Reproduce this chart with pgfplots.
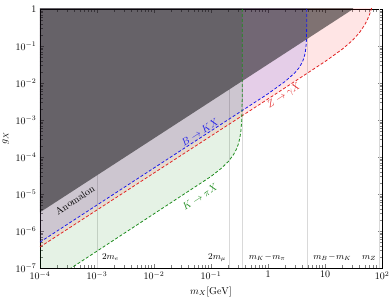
\documentclass[border=0pt]{standalone}
\usepackage{pgfplots}
\pgfplotsset{compat=1.18}
\definecolor{cred}{RGB}{225,35,35}
\definecolor{cblue}{RGB}{25,25,235}
\definecolor{cgreen}{RGB}{30,140,30}
\begin{document}
\begin{tikzpicture}
\begin{axis}[
  scale only axis,
  width=342pt, height=259pt,
  xmode=log, ymode=log,
  xmin=1e-4, xmax=100, ymin=1e-7, ymax=1,
  xtick={1e-4,1e-3,1e-2,1e-1,1,10,100},
  xticklabels={$10^{-4}$,$10^{-3}$,$10^{-2}$,$10^{-1}$,$1$,$10$,$10^{2}$},
  ytick={1e-7,1e-6,1e-5,1e-4,1e-3,1e-2,1e-1,1},
  yticklabels={$10^{-7}$,$10^{-6}$,$10^{-5}$,$10^{-4}$,$10^{-3}$,$10^{-2}$,$10^{-1}$,$1$},
  tick align=inside,
  axis line style={line width=0.8pt},
  xlabel={$m_X[\mathrm{GeV}]$},
  ylabel={$g_X$},
  clip=true,
]
% reference vertical lines (up to the Anomalon boundary)
\addplot[gray!30, line width=0.5pt] coordinates {(1.022e-3,1e-7) (1.022e-3,3.27e-5)};
\addplot[gray!30, line width=0.5pt] coordinates {(0.2113,1e-7) (0.2113,6.76e-3)};
\addplot[gray!30, line width=0.5pt] coordinates {(0.354,1e-7) (0.354,1.13e-2)};
\addplot[gray!30, line width=0.5pt] coordinates {(4.785,1e-7) (4.785,0.153)};
\addplot[gray!30, line width=0.5pt] coordinates {(91.19,1e-7) (91.19,1)};

% Z -> gamma X fill
\addplot[draw=none, fill=red, fill opacity=0.1] coordinates {
 (1e-4,3.7e-7) (1,3.7e-3) (10,0.03791) (20,0.08167) (30,0.1396) (40,0.2269)
 (50,0.3782) (55,0.5027) (60,0.6903) (65,0.9938) (66,1.077) (66,10) (1e-4,10)} -- cycle;
% B -> K X fill
\addplot[draw=none, fill=blue, fill opacity=0.1] coordinates {
 (1e-4,5e-7) (1,5.113e-3) (2,0.01101) (3,0.01926) (3.5,0.02566) (4,0.03644)
 (4.3,0.04901) (4.5,0.06618) (4.65,0.0986) (4.72,0.1437) (4.76,0.2333) (4.78,0.523)
 (4.785,1.5) (4.785,10) (1e-4,10)} -- cycle;
% K -> pi X fill
\addplot[draw=none, fill=green!50!black, fill opacity=0.1] coordinates {
 (1e-4,2.8e-8) (0.1,2.98e-5) (0.15,4.87e-5) (0.2,7.47e-5) (0.25,1.175e-4)
 (0.28,1.638e-4) (0.3,2.172e-4) (0.32,3.206e-4) (0.335,5.10e-4) (0.345,9.1e-4)
 (0.35,1.687e-3) (0.353,4.8e-3) (0.354,1.5) (0.354,10) (1e-4,10)} -- cycle;
% Anomalon
\addplot[draw=none, fill=black, fill opacity=0.5] coordinates {
 (1e-4,3.2e-6) (31.25,1) (31.25,10) (1e-4,10)} -- cycle;

% dashed curves
\addplot[cred, line width=0.8pt, dash pattern=on 3pt off 2pt] coordinates {
 (1e-4,3.7e-7) (1,3.7e-3) (10,0.03791) (20,0.08167) (30,0.1396) (40,0.2269)
 (50,0.3782) (55,0.5027) (60,0.6903) (65,0.9938) (66,1.077)};
\addplot[cblue, line width=0.8pt, dash pattern=on 3pt off 2pt] coordinates {
 (1e-4,5e-7) (1,5.113e-3) (2,0.01101) (3,0.01926) (3.5,0.02566) (4,0.03644)
 (4.3,0.04901) (4.5,0.06618) (4.65,0.0986) (4.72,0.1437) (4.76,0.2333) (4.78,0.523)
 (4.785,1.5)};
\addplot[cgreen, line width=0.8pt, dash pattern=on 3pt off 2pt] coordinates {
 (1e-4,2.8e-8) (0.1,2.98e-5) (0.15,4.87e-5) (0.2,7.47e-5) (0.25,1.175e-4)
 (0.28,1.638e-4) (0.3,2.172e-4) (0.32,3.206e-4) (0.335,5.10e-4) (0.345,9.1e-4)
 (0.35,1.687e-3) (0.353,4.8e-3) (0.354,1.5)};

% labels
\node[rotate=33] at (axis cs:4.1e-4,6.9e-6) {Anomalon};
\node[rotate=33, text=cblue] at (axis cs:0.064,4.8e-4) {$B\to KX$};
\node[rotate=33, text=cred] at (axis cs:1.91,4.5e-3) {$Z\to\gamma X$};
\node[rotate=33, text=cgreen] at (axis cs:0.064,8.3e-6) {$K\to\pi X$};

\node[font=\small, anchor=base west, xshift=1pt] at (axis cs:1.022e-3,1.7e-7) {$2m_e$};
\node[font=\small, anchor=base east, xshift=0pt] at (axis cs:0.2113,1.7e-7) {$2m_\mu$};
\node[font=\small, anchor=base west, xshift=3pt] at (axis cs:0.354,1.7e-7) {$m_K\!-\!m_\pi$};
\node[font=\small, anchor=base west, xshift=3pt] at (axis cs:4.785,1.7e-7) {$m_B\!-\!m_K$};
\node[font=\small, anchor=base east, xshift=0pt] at (axis cs:91.19,1.7e-7) {$m_Z$};
\end{axis}
\pgfresetboundingbox
\path ([shift={(-40pt,-35pt)}]current axis.south west) rectangle ([shift={(8pt,9pt)}]current axis.north east);
\end{tikzpicture}
\end{document}
